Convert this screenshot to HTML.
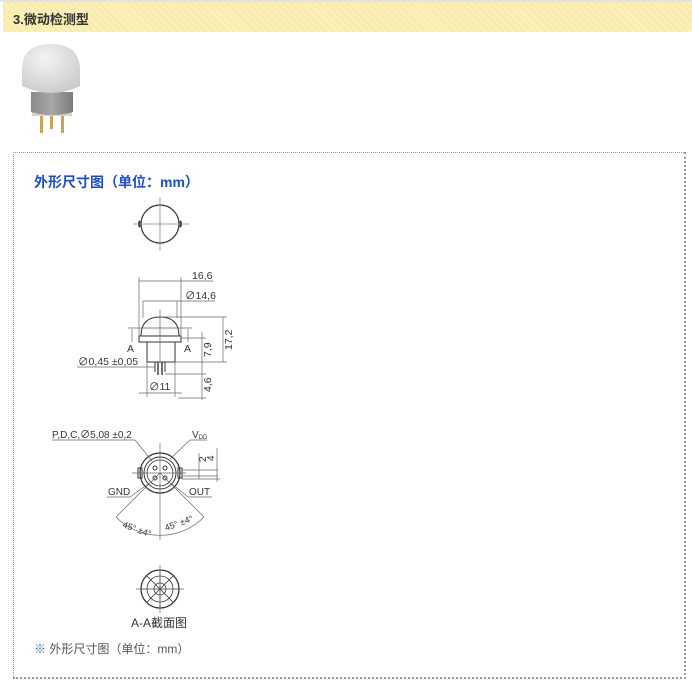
<!DOCTYPE html>
<html><head><meta charset="utf-8">
<style>
html,body{margin:0;padding:0;background:#fff;}
body{width:692px;height:680px;position:relative;overflow:hidden;font-family:"Liberation Sans","Noto Sans CJK SC",sans-serif;}
.top{position:absolute;left:0;top:0;width:692px;height:2px;background:#e2e2e2;}
.hdr{position:absolute;left:3px;top:2px;width:689px;height:30px;background:repeating-linear-gradient(45deg,#faf0b8 0 3px,#f7eaaa 3px 5px);}
.hdr span{position:absolute;left:10px;top:7px;font-size:13px;font-weight:bold;color:#333;}
.box{position:absolute;left:13px;top:152px;width:670px;height:524px;border-width:1px 2px 2px 1px;border-style:dotted;border-color:#999;}
.title{position:absolute;left:34px;top:172px;font-size:14px;font-weight:bold;color:#1a4fc9;}
.note{position:absolute;left:34px;top:640px;font-size:12px;color:#555;}
.note b{color:#3a6fcf;font-weight:normal;}
svg{position:absolute;left:0;top:0;}
</style></head><body>
<div class="top"></div>
<div class="hdr"><span>3.微动检测型</span></div>
<div class="box"></div>
<div class="title">外形尺寸图（单位：mm）</div>
<div class="note"><b>※</b> 外形尺寸图（单位：mm）</div>
<svg width="692" height="680" viewBox="0 0 692 680" font-family="Liberation Sans, Noto Sans CJK SC, sans-serif">
<defs>
<radialGradient id="dome" cx="0.4" cy="0.3" r="0.8"><stop offset="0" stop-color="#f4f4f4"/><stop offset="1" stop-color="#c8c8c8"/></radialGradient>
<linearGradient id="bod" x1="0" x2="1"><stop offset="0" stop-color="#8a8a8a"/><stop offset="0.5" stop-color="#a8a8a8"/><stop offset="1" stop-color="#7a7a7a"/></linearGradient>
</defs>
<rect x="40" y="113" width="3" height="20" fill="#c9a55a"/>
<rect x="50" y="113" width="3" height="16" fill="#c9a55a"/>
<rect x="61" y="113" width="3" height="20" fill="#c9a55a"/>
<rect x="32" y="112" width="40" height="4" fill="#d9d2c0"/>
<path d="M31 92 L31 112 Q52 118 73 112 L73 92 Z" fill="url(#bod)"/>
<path d="M22 70 Q22 44 50 44 Q80 44 80 70 L80 86 Q52 100 22 86 Z" fill="url(#dome)"/>
<g stroke="#333" stroke-width="1" fill="none">
<circle cx="160" cy="224" r="19" stroke-width="1.2"/>
<path d="M140 221 q-2 3 0 6 M180 221 q2 3 0 6" stroke-width="2"/>
</g>
<g stroke="#888" stroke-width="0.8" fill="none">
<line x1="160" y1="197" x2="160" y2="251"/><line x1="133" y1="224" x2="189" y2="224"/>
</g>
<g stroke="#333" stroke-width="1" fill="none">
<path d="M141 336 Q141 317 160 317 Q179 317 179 336 Z" fill="#fafafa"/>
<rect x="139" y="336" width="42" height="6"/>
<rect x="147" y="342" width="28" height="20"/>
<line x1="158" y1="362" x2="158" y2="375" stroke-width="1.4"/>
<line x1="162" y1="362" x2="162" y2="375" stroke-width="1.4"/>
<line x1="155" y1="362" x2="155" y2="372"/><line x1="165" y1="362" x2="165" y2="372"/>
</g>
<g stroke="#666" stroke-width="0.7" fill="none">
<line x1="160" y1="310" x2="160" y2="362"/>
<line x1="139" y1="277" x2="139" y2="336"/><line x1="181" y1="277" x2="181" y2="336"/>
<line x1="139" y1="281" x2="213" y2="281"/>
<line x1="143" y1="301" x2="143" y2="318"/><line x1="177" y1="301" x2="177" y2="318"/>
<line x1="143" y1="301" x2="215" y2="301"/>
<line x1="160" y1="317" x2="227" y2="317"/>
<line x1="181" y1="338" x2="206" y2="338"/>
<line x1="175" y1="362" x2="227" y2="362"/>
<line x1="165" y1="374" x2="206" y2="374"/>
<line x1="178" y1="398" x2="206" y2="398"/>
<line x1="223" y1="317" x2="223" y2="362"/>
<line x1="202" y1="332" x2="202" y2="400"/>
<line x1="147" y1="362" x2="147" y2="397"/><line x1="175" y1="362" x2="175" y2="397"/>
<line x1="139" y1="393" x2="182" y2="393"/>
<line x1="77" y1="367" x2="155" y2="367"/>
<line x1="128" y1="328" x2="192" y2="328"/>
<line x1="132" y1="329" x2="132" y2="342"/><line x1="188" y1="329" x2="188" y2="342"/>
</g>
<g fill="#333" font-size="10.5">
<text x="192" y="279">16,6</text>
<text x="185" y="299">∅14,6</text>
<text x="127" y="352">A</text><text x="184" y="352">A</text>
<text x="78" y="365">∅0,45 ±0,05</text>
<text x="149" y="390">∅11</text>
<text transform="translate(232,350) rotate(-90)">17,2</text>
<text transform="translate(211,357) rotate(-90)">7,9</text>
<text transform="translate(211,392) rotate(-90)">4,6</text>
</g>
<g stroke="#333" fill="none">
<circle cx="160" cy="473" r="20" stroke-width="1.2"/>
<circle cx="160" cy="473" r="16" stroke-width="1"/>
<circle cx="160" cy="473" r="13" stroke-width="0.8"/>
<rect x="138" y="468" width="4" height="10" stroke-width="1"/>
<rect x="178" y="468" width="4" height="10" stroke-width="1"/>
<circle cx="155" cy="468" r="2"/><circle cx="165" cy="468" r="2"/>
<circle cx="155" cy="478" r="2"/><circle cx="165" cy="478" r="2"/>
</g>
<g stroke="#666" stroke-width="0.7" fill="none">
<line x1="160" y1="443" x2="160" y2="540"/><line x1="132" y1="473" x2="186" y2="473"/>
<line x1="160" y1="473" x2="116" y2="517"/><line x1="160" y1="473" x2="204" y2="517"/>
<path d="M116 517 A62 62 0 0 0 204 517"/>
<line x1="52" y1="440" x2="135" y2="440"/><line x1="135" y1="440" x2="152" y2="461"/>
<line x1="190" y1="440" x2="207" y2="440"/><line x1="190" y1="440" x2="170" y2="459"/>
<line x1="107" y1="497" x2="130" y2="497"/><line x1="130" y1="497" x2="148" y2="484"/>
<line x1="188" y1="497" x2="212" y2="497"/><line x1="188" y1="497" x2="172" y2="484"/>
<line x1="182" y1="470" x2="218" y2="470"/><line x1="182" y1="476" x2="218" y2="476"/>
<line x1="182" y1="479" x2="220" y2="479"/>
<line x1="199" y1="453" x2="199" y2="479"/><line x1="217" y1="448" x2="217" y2="482"/>
</g>
<g fill="#333" font-size="10">
<text x="52" y="438">P,D,C,∅5,08 ±0,2</text>
<text x="192" y="438">V<tspan font-size="6" dy="1">DD</tspan></text>
<text x="108" y="495">GND</text>
<text x="189" y="495">OUT</text>
<text transform="translate(206,462) rotate(-90)">2</text>
<text transform="translate(214,461) rotate(-90)">4</text>
<text transform="translate(122,527) rotate(20)" font-size="9">45° ±4°</text>
<text transform="translate(166,531) rotate(-20)" font-size="9">45° ±4°</text>
</g>
<g stroke="#333" fill="none" stroke-width="0.8">
<circle cx="160" cy="589" r="19" stroke-width="1.3"/>
<circle cx="160" cy="589" r="13"/>
<circle cx="160" cy="589" r="6"/>
<path d="M160 570 L160 608 M141 589 L179 589 M147 576 L173 602 M173 576 L147 602"/>
</g>
<g stroke="#666" stroke-width="0.7"><line x1="160" y1="565" x2="160" y2="613"/><line x1="136" y1="589" x2="184" y2="589"/></g>
<text x="131" y="627" font-size="12" fill="#333">A-A截面图</text>
</svg>
</body></html>
